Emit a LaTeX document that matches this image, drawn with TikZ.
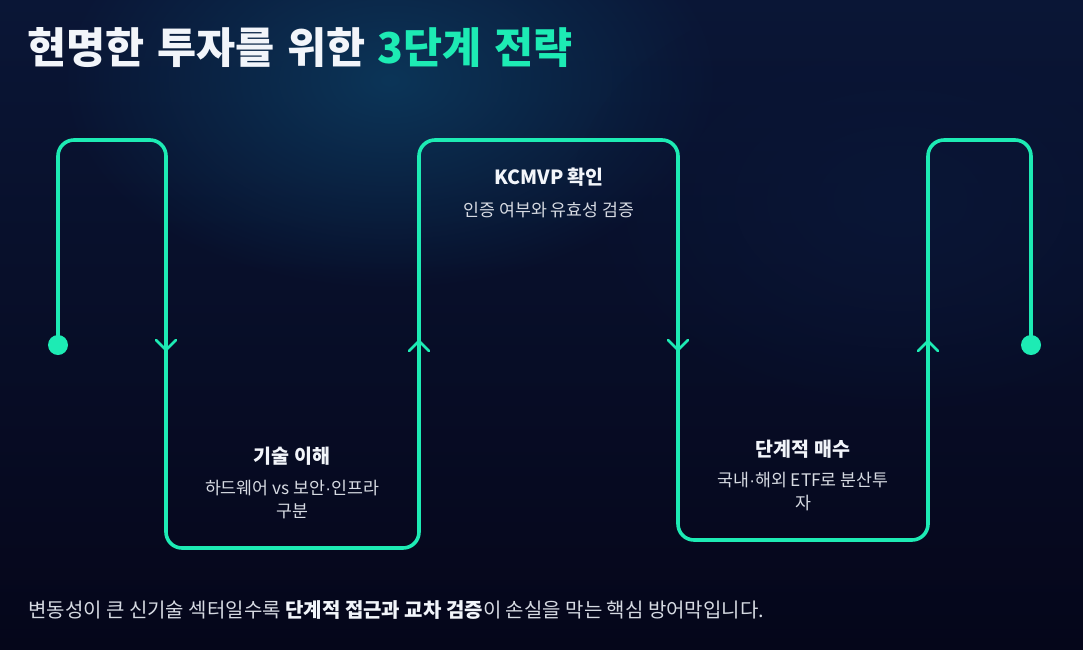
\documentclass[tikz,border=0pt]{standalone}
\usepackage{fontspec}
\setmainfont{Noto Sans CJK KR}
\newfontfamily\titlefont{Noto Sans CJK KR}[WordSpace=1.3]
\newfontfamily\latinfont{Liberation Sans}
\newcommand\sepdot{{\latinfont ·}}
\usetikzlibrary{calc, fadings}

\definecolor{bgbase}{HTML}{05061A}
\definecolor{bgtop}{HTML}{0A1636}
\definecolor{glow}{HTML}{0C3558}
\definecolor{mint}{HTML}{1DEBB4}
\definecolor{textwhite}{HTML}{F2F5FA}
\definecolor{textgray}{HTML}{D6DAE2}

\tikzfading[name=glowfade, inner color=transparent!0, outer color=transparent!100]

\tikzset{
  snake/.style={line width=3.6pt, mint, rounded corners=16pt, line join=round},
  chev/.style={line width=2.6pt, mint, line cap=round, line join=miter},
  steptitle/.style={textwhite, font=\fontsize{19.5}{22}\selectfont\bfseries},
  stepdesc/.style={textgray, font=\fontsize{17.3}{23}\selectfont, align=center}
}

\begin{document}
\begin{tikzpicture}[x=1pt, y=-1pt]

    % Background
    \useasboundingbox (0,0) rectangle (1083,649);
    \shade [top color=bgtop, bottom color=bgbase] (0,0) rectangle (1083,649);
    \fill [glow, path fading=glowfade] (390,80) ellipse (330 and 210);
    \fill [bgtop, path fading=glowfade] (900,200) ellipse (330 and 220);

    % Coordinates
    \coordinate (start) at (58,345);
    \coordinate (c1) at (58,140);
    \coordinate (c2) at (166,140);
    \coordinate (c3) at (166,548);
    \coordinate (c4) at (419,548);
    \coordinate (c5) at (419,140);
    \coordinate (c6) at (678,140);
    \coordinate (c7) at (678,540);
    \coordinate (c8) at (928,540);
    \coordinate (c9) at (928,140);
    \coordinate (c10) at (1031,140);
    \coordinate (end) at (1031,345);

    % Path
    \draw [snake] (start) -- (c1) -- (c2) -- (c3) -- (c4) -- (c5) -- (c6) -- (c7) -- (c8) -- (c9) -- (c10) -- (end);
    \fill [mint] (start) circle (10);
    \fill [mint] (end) circle (10);

    % Direction marks
    \foreach \x/\y/\d in {166/350/-1, 419/341/1, 678/350/-1, 928/341/1}
      \draw [chev] ($(\x,\y)+(-10,10*\d)$) -- (\x,\y) -- ($(\x,\y)+(10,10*\d)$);

    % Title
    \node [anchor=west, inner sep=0pt, font=\titlefont\fontsize{42.5}{44}\selectfont\bfseries] (title) at (27,48)
      {\color{textwhite}현명한 투자를 위한 \color{mint}3단계 전략};

    % Steps
    \node [steptitle] (tech) at (292,456) {기술 이해};
    \node [stepdesc] (techdesc) at (292,500) {하드웨어 vs 보안\sepdot 인프라\\구분};

    \node [steptitle] (kcmvp) at (549,177) {KCMVP 확인};
    \node [stepdesc] (kcmvpdesc) at (549,210) {인증 여부와 유효성 검증};

    \node [steptitle] (buy) at (803,449) {단계적 매수};
    \node [stepdesc] (buydesc) at (803,492) {국내\sepdot 해외 ETF로 분산투\\자};

    % Footer
    \node [anchor=west, inner sep=0pt, textgray, font=\fontsize{20}{22}\selectfont] (footer) at (28,610)
      {변동성이 큰 신기술 섹터일수록 {\bfseries\color{textwhite}단계적 접근과 교차 검증}이 손실을 막는 핵심 방어막입니다.};

\end{tikzpicture}
\end{document}
